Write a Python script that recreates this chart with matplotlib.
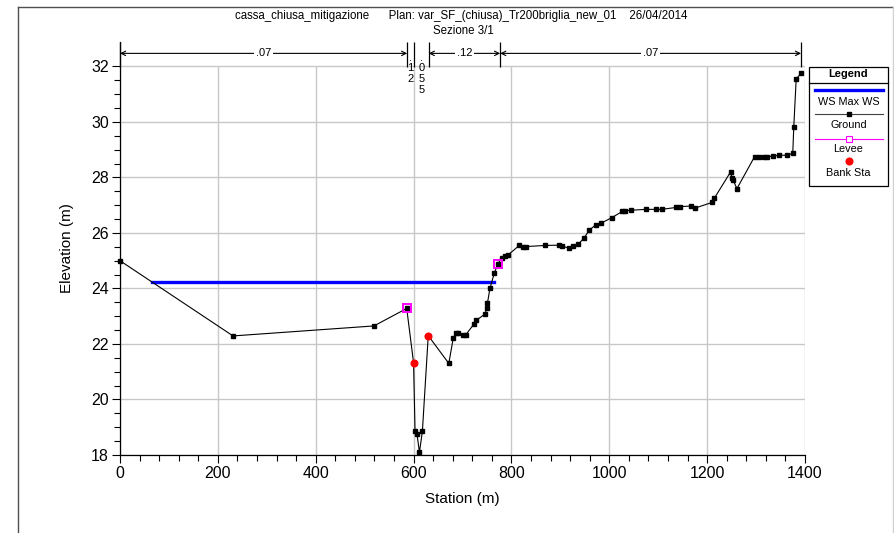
import matplotlib
matplotlib.use("Agg")
import matplotlib.pyplot as plt
from matplotlib.lines import Line2D
from matplotlib.patches import Rectangle

plt.rcParams["font.family"] = ["Liberation Sans", "DejaVu Sans"]

W, H = 894, 533

# ground profile (station m, elevation m)
ground_sta = [0, 231, 519, 586, 600, 603, 607, 612, 618, 630, 672, 681, 686, 690,
              700, 707, 724, 728, 746, 750, 751, 756, 765, 772, 780, 787, 794, 816,
              823, 830, 869, 898, 903, 917, 925, 937, 949, 959, 973, 983, 1005, 1027,
              1033, 1045, 1075, 1096, 1107, 1137, 1145, 1168, 1176, 1210, 1215, 1248,
              1251, 1253, 1261, 1297, 1306, 1316, 1323, 1335, 1347, 1364, 1375, 1377,
              1382, 1392]
ground_elev = [25.0, 22.29, 22.65, 23.28, 21.32, 18.85, 18.75, 18.1, 18.85, 22.3, 21.3,
               22.2, 22.38, 22.38, 22.34, 22.34, 22.73, 22.85, 23.08, 23.3, 23.47, 24.0,
               24.55, 24.88, 25.1, 25.18, 25.22, 25.55, 25.51, 25.51, 25.55, 25.56, 25.54,
               25.45, 25.54, 25.6, 25.83, 26.1, 26.3, 26.35, 26.55, 26.78, 26.8, 26.82,
               26.85, 26.85, 26.85, 26.92, 26.95, 26.97, 26.9, 27.1, 27.26, 28.2, 27.97,
               27.9, 27.6, 28.75, 28.75, 28.75, 28.75, 28.77, 28.8, 28.8, 28.87, 29.8,
               31.55, 31.75]

ws_sta = [66, 764]
ws_elev = [24.24, 24.24]

levee_sta = [586, 772]
levee_elev = [23.28, 24.88]

bank_sta = [600, 630]
bank_elev = [21.32, 22.3]

# Manning's n zones
n_breaks = [0, 587, 601, 631, 777, 1392]
n_values = [".07", ".12", ".055", ".12", ".07"]

x_ticks = [0, 200, 400, 600, 800, 1000, 1200, 1400]
y_ticks = [18, 20, 22, 24, 26, 28, 30, 32]

fig = plt.figure(figsize=(W / 100, H / 100), dpi=100)
ax = fig.add_axes([120 / W, 1 - 455 / H, 685 / W, 413 / H])
ax.set_xlim(0, 1400)
ax.set_ylim(18, 32.88)

# grid only up to the top tick
ax.vlines(x_ticks, 18, 32, color="#c8c8c8", lw=1, zorder=0)
ax.hlines(y_ticks, 0, 1400, color="#c8c8c8", lw=1, zorder=0)

ax.plot(ws_sta, ws_elev, color="#0000ff", lw=2.4, zorder=3)
ax.plot(ground_sta, ground_elev, color="black", lw=0.8, marker="s", ms=3.4, zorder=4,
        clip_on=False)
ax.plot(levee_sta, levee_elev, ls="none", marker="s", ms=6, mfc="none",
        mec="#ff00ff", mew=1.4, zorder=5)
ax.plot(bank_sta, bank_elev, ls="none", marker="o", ms=4.8, color="red", zorder=6)

# Manning's n annotation on top
y_arr = 32.47
ax.vlines(n_breaks, 31.97, 32.88, color="black", lw=0.9, clip_on=False, zorder=3)
for i, lab in enumerate(n_values):
    a, b = n_breaks[i], n_breaks[i + 1]
    if b - a > 50:
        ax.annotate("", xy=(a, y_arr), xytext=(b, y_arr),
                    arrowprops=dict(arrowstyle="<->", lw=0.8, color="black",
                                    shrinkA=0, shrinkB=0, mutation_scale=8))
        ax.text((a + b) / 2, y_arr, lab, ha="center", va="center", fontsize=8,
                bbox=dict(facecolor="white", edgecolor="none", pad=1.5), zorder=4)
    else:
        ax.text((a + b) / 2, 32.5, "\n".join(lab), ha="center", va="top",
                fontsize=8, linespacing=1.1)

ax.set_xticks(x_ticks)
ax.set_yticks(y_ticks)
ax.set_xticks(range(0, 1401, 40), minor=True)
ax.set_yticks([18 + 0.5 * k for k in range(29)], minor=True)
ax.tick_params(which="major", direction="out", length=6, width=0.8, labelsize=11.5,
               pad=2)
ax.tick_params(which="minor", direction="out", length=4, width=0.8)
for s in ("top", "right"):
    ax.spines[s].set_visible(False)
for s in ("left", "bottom"):
    ax.spines[s].set_linewidth(0.9)

ax.set_xlabel("Station (m)", fontsize=11, labelpad=8)
ax.set_ylabel("Elevation (m)", fontsize=11, labelpad=12)

fig.text(461 / W, 1 - 16 / H,
         "cassa_chiusa_mitigazione      Plan: var_SF_(chiusa)_Tr200briglia_new_01    26/04/2014",
         ha="center", va="center", fontsize=8.3)
fig.text(463 / W, 1 - 31 / H, "Sezione 3/1", ha="center", va="center", fontsize=8.3)

# legend box drawn by hand
fig.add_artist(Rectangle((809 / W, 1 - 186 / H), 79 / W, 119 / H, transform=fig.transFigure,
                         facecolor="white", edgecolor="black", lw=0.9))
fig.add_artist(Line2D([809 / W, 888 / W], [1 - 83 / H] * 2, transform=fig.transFigure,
                      color="black", lw=0.9))
fig.text(848.5 / W, 1 - 74 / H, "Legend", ha="center", va="center", fontsize=8,
         fontweight="bold")
lx = [815 / W, 883 / W]
fig.add_artist(Line2D(lx, [1 - 90 / H] * 2, transform=fig.transFigure, color="#0000ff", lw=2.4))
fig.text(848.5 / W, 1 - 102 / H, "WS Max WS", ha="center", va="center", fontsize=7.8)
fig.add_artist(Line2D(lx, [1 - 113.5 / H] * 2, transform=fig.transFigure, color="#404040", lw=0.8))
fig.add_artist(Line2D([848.5 / W], [1 - 113.5 / H], transform=fig.transFigure, ls="none",
                      marker="s", ms=3.4, color="black"))
fig.text(848.5 / W, 1 - 125 / H, "Ground", ha="center", va="center", fontsize=7.8)
fig.add_artist(Line2D(lx, [1 - 138.5 / H] * 2, transform=fig.transFigure, color="#ff00ff", lw=0.8))
fig.add_artist(Line2D([848.5 / W], [1 - 138.5 / H], transform=fig.transFigure, ls="none",
                      marker="s", ms=5, mfc="white", mec="#ff00ff", mew=0.8))
fig.text(848.5 / W, 1 - 149 / H, "Levee", ha="center", va="center", fontsize=7.8)
fig.add_artist(Line2D([848.5 / W], [1 - 161 / H], transform=fig.transFigure, ls="none",
                      marker="o", ms=4.8, color="red"))
fig.text(848.5 / W, 1 - 173.5 / H, "Bank Sta", ha="center", va="center", fontsize=7.8)

# page frame
fig.add_artist(Line2D([18 / W, 18 / W], [0, 1 - 7 / H], transform=fig.transFigure,
                      color="#505050", lw=1))
fig.add_artist(Line2D([18 / W, 893 / W], [1 - 7 / H] * 2, transform=fig.transFigure,
                      color="#505050", lw=1))
fig.add_artist(Line2D([893 / W, 893 / W], [0, 1 - 7 / H], transform=fig.transFigure,
                      color="#d0d0d0", lw=1))

fig.savefig("out.png", dpi=100)
